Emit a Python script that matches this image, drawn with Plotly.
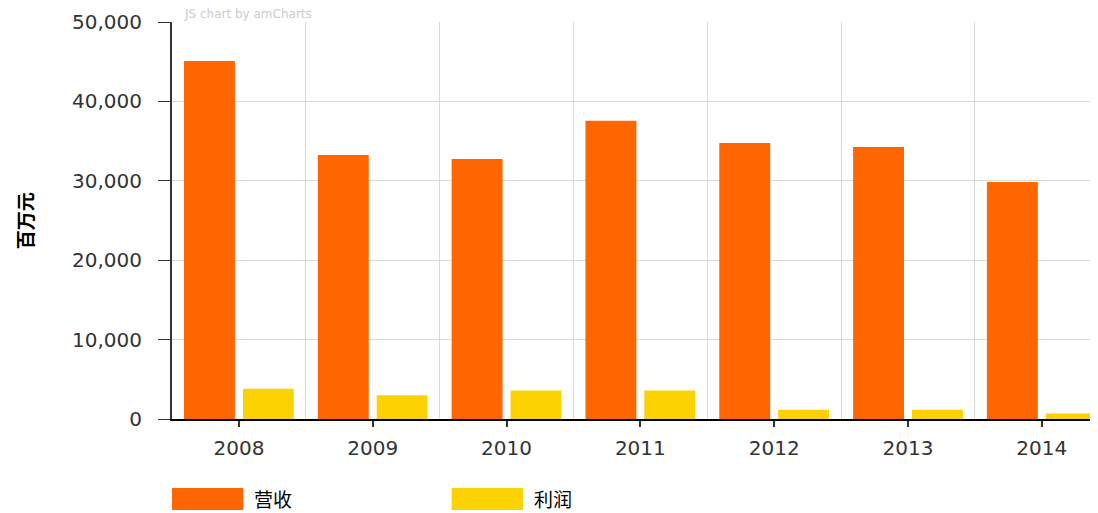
import plotly.graph_objects as go

# 数据
years = [2008, 2009, 2010, 2011, 2012, 2013, 2014]
revenue = [45100, 33250, 32750, 37550, 34750, 34250, 29850]   # 营收
profit = [3800, 3000, 3600, 3600, 1150, 1150, 700]           # 利润

orange = "#FF6600"
yellow = "#FCD202"

fig = go.Figure()
fig.add_trace(go.Bar(x=years, y=revenue, name="营收", marker=dict(color=orange, line=dict(width=0))))
fig.add_trace(go.Bar(x=years, y=profit, name="利润", marker=dict(color=yellow, line=dict(width=0))))

# 分类边界的竖向网格线
bounds = [y + 0.5 for y in years[:-1]]

# 页面本身有 8px 的边距，所以整体尺寸缩小 8px
fig.update_layout(
    width=1090, height=505,
    margin=dict(l=164, r=0, t=14, b=94),
    plot_bgcolor="white", paper_bgcolor="white",
    barmode="group", bargap=0.12, bargroupgap=0.135,
    showlegend=False,
    font=dict(family="DejaVu Sans", color="#333333"),
    xaxis=dict(
        range=[2007.5, 2014.42], tickvals=years, ticktext=[str(y) for y in years],
        showgrid=False, zeroline=False,
        showline=True, linecolor="#000000", linewidth=2,
        ticks="outside", ticklen=6, tickwidth=2, tickcolor="#333333",
        tickfont=dict(size=20, color="#333333"), ticklabelstandoff=4,
        minor=dict(tickvals=bounds, showgrid=True, gridcolor="#d9d9d9", gridwidth=1, ticks=""),
    ),
    yaxis=dict(
        range=[0, 50000], dtick=10000, tickformat=",",
        showgrid=True, gridcolor="#d9d9d9", zeroline=False,
        showline=True, linecolor="#333333", linewidth=2,
        ticks="outside", ticklen=12, tickwidth=1, tickcolor="#333333",
        tickfont=dict(size=20, color="#333333"), ticklabelstandoff=12,
    ),
)

# 纵轴标题
fig.add_annotation(text="<b>百万元</b>", xref="paper", yref="paper", x=-0.159, y=0.5,
                   xanchor="center", yanchor="middle",
                   textangle=-90, showarrow=False, font=dict(size=19, color="#000000",
                   family="Noto Sans CJK SC"))

# 水印
fig.add_annotation(text="JS chart by amCharts", xref="paper", yref="paper", x=0.012, y=1.0,
                   xanchor="left", yanchor="bottom", showarrow=False, borderpad=0,
                   font=dict(size=12, color="#cccccc"))

# 图例
legend_items = [("营收", orange, 0.0), ("利润", yellow, 0.302)]
for label, color, x0 in legend_items:
    fig.add_shape(type="rect", xref="paper", yref="paper", x0=x0, x1=x0 + 0.077,
                  y0=-0.229, y1=-0.174, fillcolor=color, line=dict(width=0))
    fig.add_annotation(text=label, xref="paper", yref="paper", x=x0 + 0.088, y=-0.2015,
                       xanchor="left", yanchor="middle", showarrow=False, borderpad=0,
                       font=dict(size=19, color="#000000", family="Noto Sans CJK SC"))

fig.write_html("out.html")
